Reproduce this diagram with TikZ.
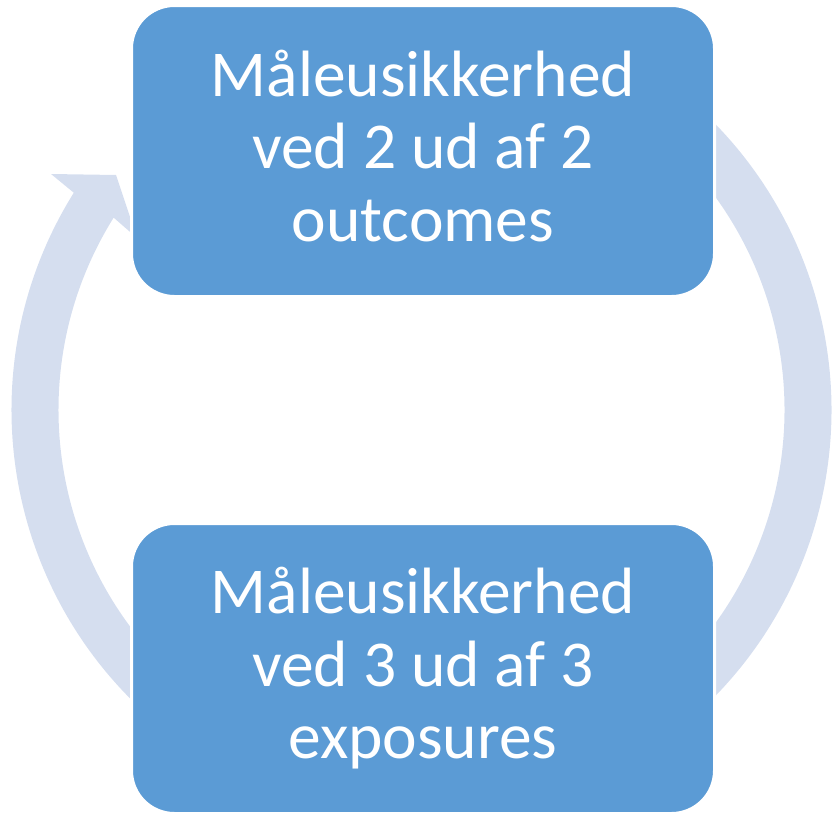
\documentclass[tikz,border=0pt]{standalone}
\usepackage{fontspec}
\setmainfont{Carlito}
\usetikzlibrary{calc}
\definecolor{boxblue}{HTML}{5B9BD5}
\definecolor{arcblue}{HTML}{D5DEEF}
\begin{document}
\begin{tikzpicture}[x=1pt,y=-1pt,
  box/.style={draw=white, line width=3pt, fill=boxblue, rounded corners=43pt,
    minimum width=583pt, text=white, align=center,
    font=\fontsize{65.5}{72.5}\selectfont, inner sep=0pt},
  band/.style={fill=arcblue, draw=none}]
\useasboundingbox (0,0) rectangle (832,814);
\coordinate (c) at (421.5,410);
\coordinate (tipA) at (51,174);
\coordinate (tipT) at (116,175);
\coordinate (tipB) at (137,238);
% right band
\fill[band] ($(c)+(-50:410)$) arc[start angle=-50, end angle=50, radius=410]
  -- ($(c)+(50:363)$) arc[start angle=50, end angle=-50, radius=363] -- cycle;
% left band with arrow head
\fill[band] ($(c)+(130:410)$) arc[start angle=130, end angle=212, radius=410]
  -- (tipA) -- (tipT) -- (tipB)
  -- ($(c)+(212:363)$) arc[start angle=212, end angle=130, radius=363] -- cycle;
\node[box, minimum height=291pt] (top) at (423,151)
  {Måleusikkerhed\\ved 2 ud af 2\\outcomes\vphantom{p}};
\node[box, minimum height=290pt] (bot) at (423,668.5)
  {Måleusikkerhed\\ved 3 ud af 3\\exposures};
\end{tikzpicture}
\end{document}
